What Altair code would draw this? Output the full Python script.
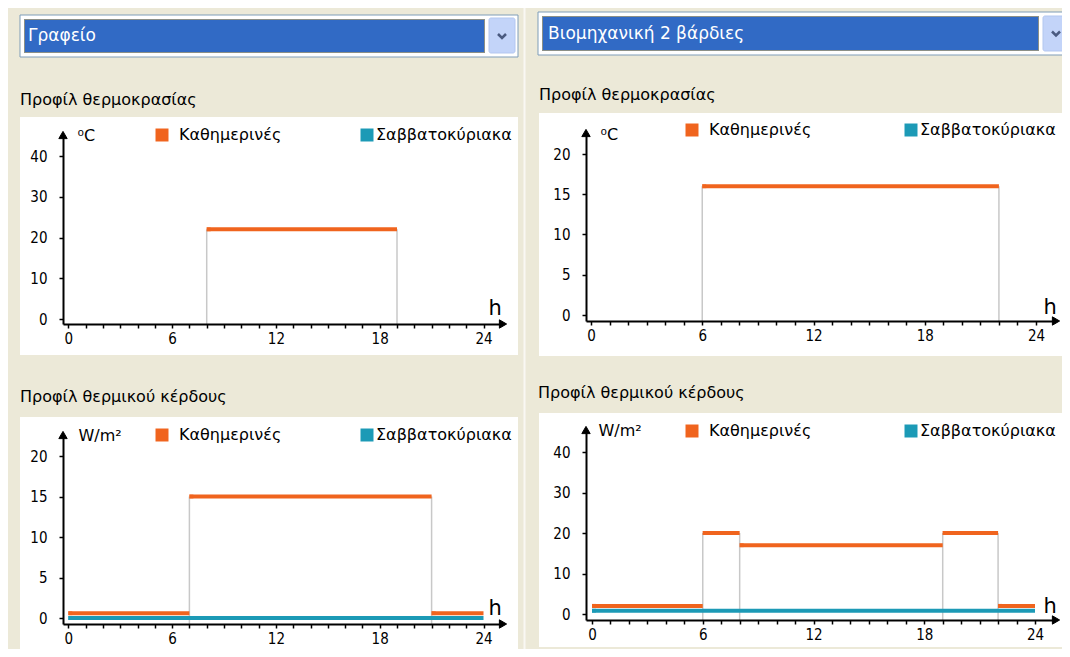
import altair as alt
import pandas as pd

# ---------------- data ----------------
SERIES = ["Καθημερινές", "Σαββατοκύριακα"]
HOUR_TICKS = [0, 1, 2, 3, 4, 5, 6, 7, 8, 9, 10, 11, 12, 13, 14, 15, 16, 17, 18, 19, 20, 21, 22, 23, 24]

# hourly values (value held from hour h to h+1); None = no set-point
office_temp_weekdays = [None, None, None, None, None, None, None, None,
                        22, 22, 22, 22, 22, 22, 22, 22, 22, 22, 22,
                        None, None, None, None, None]
office_temp_weekends = [None, None, None, None, None, None, None, None, None, None, None, None,
                        None, None, None, None, None, None, None, None, None, None, None, None]
office_gain_weekdays = [0.6, 0.6, 0.6, 0.6, 0.6, 0.6, 0.6,
                        15, 15, 15, 15, 15, 15, 15, 15, 15, 15, 15, 15, 15, 15,
                        0.6, 0.6, 0.6]
office_gain_weekends = [0, 0, 0, 0, 0, 0, 0, 0, 0, 0, 0, 0,
                        0, 0, 0, 0, 0, 0, 0, 0, 0, 0, 0, 0]

industrial_temp_weekdays = [None, None, None, None, None, None,
                            16, 16, 16, 16, 16, 16, 16, 16, 16, 16, 16, 16, 16, 16, 16, 16,
                            None, None]
industrial_temp_weekends = [None, None, None, None, None, None, None, None, None, None, None, None,
                            None, None, None, None, None, None, None, None, None, None, None, None]
industrial_gain_weekdays = [2, 2, 2, 2, 2, 2, 20, 20,
                            17, 17, 17, 17, 17, 17, 17, 17, 17, 17, 17,
                            20, 20, 20, 2, 2]
industrial_gain_weekends = [0.8, 0.8, 0.8, 0.8, 0.8, 0.8, 0.8, 0.8, 0.8, 0.8, 0.8, 0.8,
                            0.8, 0.8, 0.8, 0.8, 0.8, 0.8, 0.8, 0.8, 0.8, 0.8, 0.8, 0.8]

office_temp_ticks = [0, 10, 20, 30, 40]
office_gain_ticks = [0, 5, 10, 15, 20]
industrial_temp_ticks = [0, 5, 10, 15, 20]
industrial_gain_ticks = [0, 10, 20, 30, 40]

PROFILE_LEFT = "Γραφείο"
PROFILE_RIGHT = "Βιομηχανική 2 βάρδιες"
TITLE_TEMP = "Προφίλ θερμοκρασίας"
TITLE_GAIN = "Προφίλ θερμικού κέρδους"
UNIT_TEMP = "⁰C"
UNIT_GAIN = "W/m²"
UNIT_HOUR = "h"

# ---------------- style / layout ----------------
W, H = 1054, 641
FONT = "DejaVu Sans"
NUMFONT = "Liberation Sans Narrow, DejaVu Sans Condensed, Liberation Sans, sans-serif"
ORANGE = "#F0641E"
TEAL = "#1C9AB6"
GRAY = "#C8C8C8"
BEIGE = "#ECE9D8"
XP_BLUE = "#316AC5"

ONE = pd.DataFrame({"k": [0]})

GEOM = {
    "LT": dict(ax=55, x0=60.3, x24=475.5, xend=495, ay=316, y0=311, ytop=148, yend=127,
               legx=146, legy=119, cpad=77, unitx=14, unity=127, hx=480, hy=-10),
    "LB": dict(ax=55, x0=60.3, x24=475.5, xend=495, ay=616, y0=610, ytop=448, yend=427,
               legx=146, legy=419, cpad=77, unitx=15, unity=427, hx=480, hy=-10),
    "RT": dict(ax=578, x0=583, x24=1028, xend=1048, ay=313, y0=307, ytop=146, yend=125,
               legx=676, legy=114, cpad=91, unitx=14, unity=126, hx=1035, hy=-8),
    "RB": dict(ax=578, x0=584, x24=1027, xend=1048, ay=612, y0=606, ytop=444, yend=422,
               legx=676, legy=415, cpad=91, unitx=12, unity=422, hx=1035, hy=-8),
}


def runs(vals, series):
    rows, h = [], 0
    while h < len(vals):
        e = h
        while e + 1 < len(vals) and vals[e + 1] == vals[h]:
            e += 1
        if vals[h] is not None:
            rows.append({"start": h, "end": e + 1, "value": vals[h], "series": series})
        h = e + 1
    return rows


def steps(vals, floor):
    rows = []
    for h in range(1, len(vals)):
        a, b = vals[h - 1], vals[h]
        if a != b:
            top = max(v for v in (a, b) if v is not None)
            rows.append({"x": h, "lo": floor, "hi": top})
    return rows


def panel(g, wk, we, yticks, unit):
    kx = (g["x24"] - g["x0"]) / 24.0
    xdom = [(g["ax"] - g["x0"]) / kx, (g["xend"] - g["x0"]) / kx]
    ky = (g["y0"] - g["ytop"]) / float(yticks[-1])
    ydom = [(g["y0"] - g["ay"]) / ky, (g["y0"] - g["yend"]) / ky]
    xs = alt.Scale(domain=xdom, range=[g["ax"], g["xend"]], nice=False, zero=False)
    ys = alt.Scale(domain=ydom, range=[g["ay"], g["yend"]], nice=False, zero=False)
    cs = alt.Scale(domain=SERIES, range=[ORANGE, TEAL])

    xaxis = alt.Axis(orient="bottom", offset=g["ay"] - H, values=HOUR_TICKS,
                     labelExpr="datum.value % 6 == 0 ? datum.label : ''",
                     tickSize=4, tickWidth=1.5, tickColor="black",
                     domainColor="black", domainWidth=2,
                     labelFont=NUMFONT, labelFontSize=15, labelColor="black",
                     labelPadding=3, labelOverlap=False, labelFlush=False, grid=False,
                     title=UNIT_HOUR, titleFont=FONT, titleFontSize=21, titleFontWeight="normal",
                     titleColor="black", titleX=g["hx"], titleY=g["hy"], titleAlign="left",
                     titleBaseline="alphabetic", titleAngle=0, zindex=1)
    yaxis = alt.Axis(orient="left", offset=-g["ax"], values=yticks,
                     tickSize=4, tickWidth=1.5, tickColor="black",
                     domainColor="black", domainWidth=2,
                     labelFont=NUMFONT, labelFontSize=15, labelColor="black",
                     labelPadding=12, labelOverlap=False, grid=False,
                     title=unit, titleFont=FONT, titleFontSize=16, titleFontWeight="normal",
                     titleColor="black", titleX=g["unitx"], titleY=g["unity"], titleAlign="left",
                     titleBaseline="middle", titleAngle=0, zindex=1)
    legend = alt.Legend(orient="none", legendX=g["legx"], legendY=g["legy"], direction="horizontal",
                        title=None, symbolType="square", symbolSize=169, symbolStrokeWidth=0,
                        symbolOpacity=1, labelFont=FONT, labelFontSize=16, labelColor="black",
                        labelOffset=1, columnPadding=g["cpad"], padding=0, labelLimit=300,
                        labelExpr="datum.label == 'Καθημερινές' ? '\u200b\u2002' + datum.label : datum.label")

    seg = pd.DataFrame(runs(wk, SERIES[0]) + runs(we, SERIES[1]))
    con = pd.DataFrame(steps(wk, ydom[0]))
    arr = pd.DataFrame({"ax": [xdom[0], xdom[1]], "ay": [ydom[1], ydom[0]],
                        "shape": ["triangle-up", "triangle-right"]})

    connectors = alt.Chart(con).mark_rule(color=GRAY, strokeWidth=1.5).encode(
        x=alt.X("x:Q", scale=xs, axis=xaxis),
        y=alt.Y("lo:Q", scale=ys, axis=yaxis),
        y2="hi:Q")
    keys = alt.Chart(seg).mark_square(size=16, xOffset=2).encode(
        x=alt.X("start:Q", scale=xs, axis=xaxis),
        y=alt.Y("value:Q", scale=ys, axis=yaxis),
        color=alt.Color("series:N", scale=cs, legend=legend))
    lines = alt.Chart(seg).mark_rule(strokeWidth=4).encode(
        x=alt.X("start:Q", scale=xs, axis=xaxis),
        x2="end:Q",
        y=alt.Y("value:Q", scale=ys, axis=yaxis),
        color=alt.Color("series:N", scale=cs, legend=None))
    arrows = alt.Chart(arr).mark_point(filled=True, fill="black", stroke="black", strokeWidth=1,
                                       size=70, opacity=1, fillOpacity=1).encode(
        x=alt.X("ax:Q", scale=xs, axis=xaxis),
        y=alt.Y("ay:Q", scale=ys, axis=yaxis),
        shape=alt.Shape("shape:N", scale=None, legend=None))
    return alt.layer(connectors, keys, lines, arrows)


def rect(x1, x2, y1, y2, **kw):
    return alt.Chart(ONE).mark_rect(**kw).encode(
        x=alt.value(x1), x2=alt.value(x2), y=alt.value(y1), y2=alt.value(y2))


def label(x, y, s, color="black", size=16):
    return alt.Chart(ONE).mark_text(text=s, align="left", baseline="middle", font=FONT,
                                    fontSize=size, color=color).encode(
        x=alt.value(x), y=alt.value(y))


def chevron(x, y):
    return alt.Chart(ONE).mark_point(shape="M-1,-0.5L0,0.5L1,-0.5", filled=False, size=64,
                                     strokeWidth=2.5, color="#4A5A80", opacity=1).encode(
        x=alt.value(x), y=alt.value(y))


decor = [
    rect(515.5, 517.5, 0, H, fill="#F9F8F3"),
    rect(12, 510, 109, 347, fill="white"),
    rect(12, 510, 409, 647, fill="white"),
    rect(531, 1060, 105, 348, fill="white"),
    rect(531, 1060, 405, 639, fill="white"),
    rect(12, 510, 7, 49, fill="white", stroke="#7F9DB9", strokeWidth=1),
    rect(16, 477, 11, 45, fill=XP_BLUE),
    rect(16.5, 476.5, 11.5, 44.5, fill="transparent", stroke="#E8B64A", strokeDash=[1, 1], strokeWidth=1),
    label(20, 28, PROFILE_LEFT, color="white", size=17),
    rect(481, 507, 10, 45, fill="#C3D4F9", stroke="#B3C7F0", strokeWidth=1, cornerRadius=2),
    chevron(494, 28),
    rect(530, 1070, 4, 47, fill="white", stroke="#7F9DB9", strokeWidth=1),
    rect(534, 1031, 8, 43, fill=XP_BLUE),
    rect(534.5, 1030.5, 8.5, 42.5, fill="transparent", stroke="#E8B64A", strokeDash=[1, 1], strokeWidth=1),
    label(540, 25.5, PROFILE_RIGHT, color="white", size=17),
    rect(1035, 1062, 8, 43, fill="#C3D4F9", stroke="#B3C7F0", strokeWidth=1, cornerRadius=2),
    chevron(1048, 25.5),
    label(12, 92, TITLE_TEMP),
    label(12, 389, TITLE_GAIN),
    label(531, 87, TITLE_TEMP),
    label(530, 385, TITLE_GAIN),
]

charts = [
    panel(GEOM["LT"], office_temp_weekdays, office_temp_weekends, office_temp_ticks, UNIT_TEMP),
    panel(GEOM["LB"], office_gain_weekdays, office_gain_weekends, office_gain_ticks, UNIT_GAIN),
    panel(GEOM["RT"], industrial_temp_weekdays, industrial_temp_weekends, industrial_temp_ticks, UNIT_TEMP),
    panel(GEOM["RB"], industrial_gain_weekdays, industrial_gain_weekends, industrial_gain_ticks, UNIT_GAIN),
]

chart = alt.layer(*decor, *charts).resolve_scale(
    x="independent", y="independent", color="independent", shape="independent"
).resolve_axis(
    x="independent", y="independent"
).resolve_legend(
    color="independent"
).properties(
    width=W, height=H, padding=0, background=BEIGE,
    autosize=alt.AutoSizeParams(type="none")
).configure_view(strokeWidth=0)

chart.save("out.html", embed_options={"renderer": "svg", "actions": False})
